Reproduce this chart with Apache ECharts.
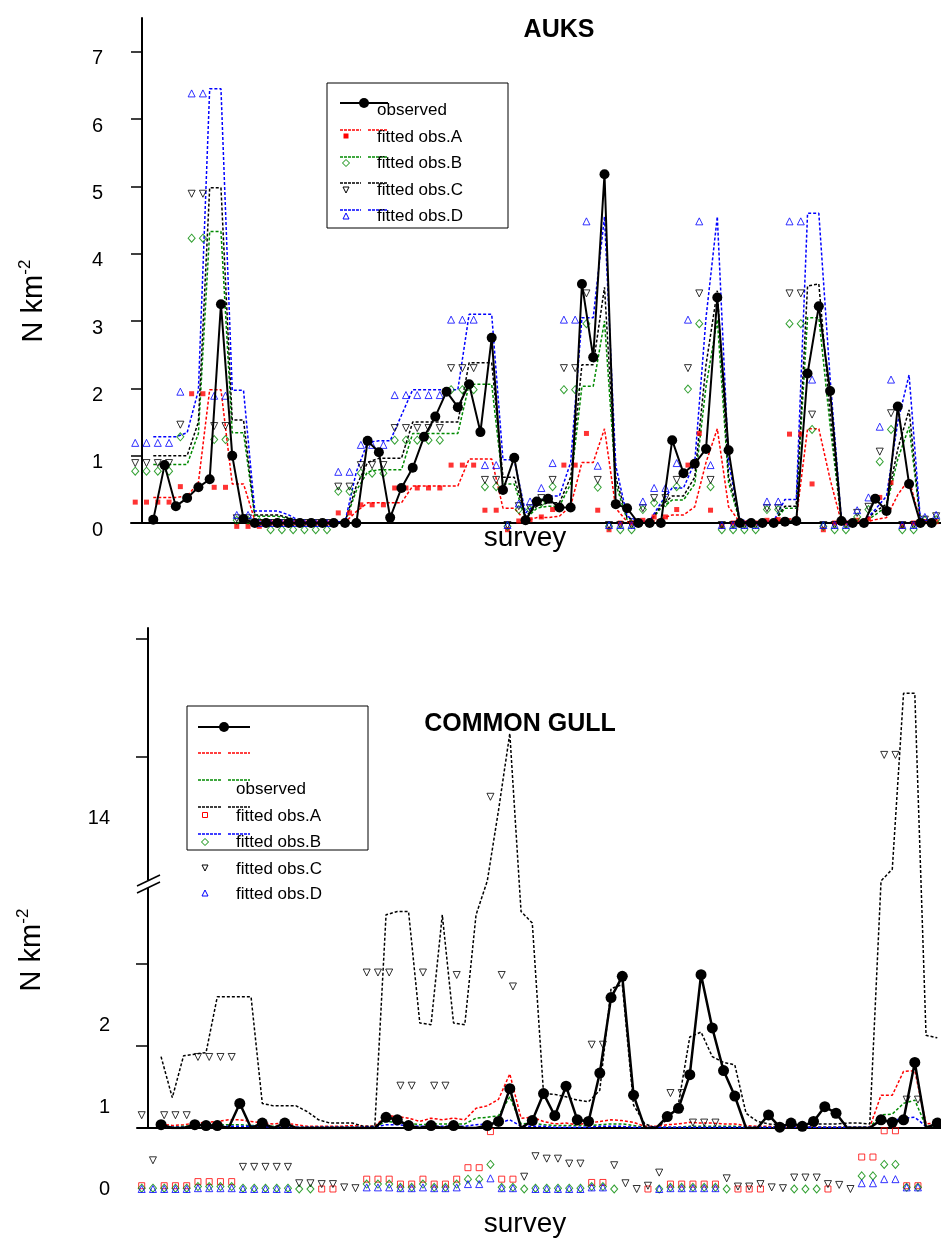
<!DOCTYPE html>
<html><head><meta charset="utf-8">
<script src="https://cdn.jsdelivr.net/npm/echarts@6/dist/echarts.min.js"></script>
<style>html,body{margin:0;padding:0;background:#fff}#c{width:941px;height:1238px}</style>
</head><body><div id="c"></div>
<script>
// ---------------- DATA : AUKS (top panel) ----------------
const topObserved = [0.05,0.86,0.25,0.37,0.53,0.65,3.25,1.0,0.06,0,
 0,0,0,0,0,0,0,0,0,1.22,
 1.05,0.08,0.52,0.82,1.28,1.58,1.95,1.72,2.06,1.35,
 2.75,0.49,0.97,0.04,0.32,0.36,0.23,0.23,3.55,2.46,
 5.18,0.28,0.22,0,0,0,1.23,0.74,0.88,1.1,
 3.35,1.08,0,0,0,0,0.02,0.03,2.22,3.22,
 1.96,0.03,0,0,0.36,0.18,1.73,0.58,0,0];
const topFitA = [0.38,0.38,0.38,0.4,0.6,1.98,1.98,0.58,0.58,0.04,
 0.04,0.04,0.03,0.01,0.01,0.01,0.01,0.01,0.17,0.3,
 0.3,0.3,0.3,0.55,0.55,0.55,0.55,0.55,0.95,0.95,
 0.95,0.22,0.22,0.03,0.08,0.08,0.1,0.25,0.9,0.9,
 1.4,0.22,0.02,0.01,0.01,0.06,0.12,0.12,0.24,0.9,
 1.4,0.24,0.01,0.01,0.01,0.01,0.06,0.06,1.4,1.4,
 0.65,0.01,0.01,0.01,0.05,0.08,0.42,0.65,0.02,0.02];
const topFitB = [0.87,0.87,0.87,0.87,1.33,4.33,4.33,1.34,1.34,0.1,
 0.1,0.1,0.07,0.02,0.01,0.01,0.01,0.01,0.48,0.76,
 0.79,0.79,0.79,1.33,1.33,1.33,1.33,1.33,2.06,2.06,
 2.06,0.58,0.58,0.06,0.22,0.25,0.25,0.58,2.03,2.03,
 3.0,0.58,0.05,0.01,0.01,0.22,0.34,0.34,0.58,2.03,
 3.02,0.6,0.02,0.01,0.01,0.01,0.22,0.22,3.05,3.05,
 1.45,0.02,0.01,0.01,0.12,0.25,0.95,1.43,0.03,0.02];
const topFitC = [1.0,1.0,1.0,1.0,1.5,4.98,4.98,1.53,1.53,0.12,
 0.12,0.12,0.08,0.02,0.02,0.02,0.02,0.02,0.55,0.9,
 0.96,0.96,0.96,1.5,1.5,1.5,1.5,1.5,2.38,2.38,
 2.38,0.68,0.68,0.1,0.25,0.3,0.3,0.68,2.35,2.35,
 3.5,0.68,0.08,0.02,0.02,0.25,0.4,0.4,0.68,2.35,
 3.45,0.7,0.03,0.02,0.02,0.02,0.25,0.25,3.52,3.55,
 1.65,0.03,0.02,0.02,0.17,0.28,1.1,1.68,0.04,0.03];
const topFitD = [1.28,1.28,1.28,1.34,1.97,6.45,6.45,1.97,1.97,0.18,
 0.18,0.18,0.12,0.03,0.02,0.02,0.02,0.02,0.76,1.2,
 1.22,1.22,1.6,1.98,1.98,1.98,1.98,1.98,3.1,3.1,
 3.1,0.94,0.94,0.15,0.3,0.4,0.4,0.9,3.05,3.05,
 4.55,0.85,0.1,0.03,0.03,0.3,0.52,0.52,0.9,3.05,
 4.55,0.9,0.05,0.02,0.02,0.03,0.35,0.35,4.6,4.6,
 2.15,0.05,0.02,0.02,0.2,0.4,1.5,2.2,0.05,0.05];
// fitted obs markers (top)
const topObsA = [0.31,0.31,0.31,0.31,0.54,1.92,1.92,0.53,0.53,-0.05,
 -0.05,-0.05,0,0,0,0,0,0,0.15,0.15,
 0.27,0.27,0.27,0.52,0.52,0.52,0.52,0.52,0.86,0.86,
 0.86,0.19,0.19,-0.1,0.03,0.05,0.09,0.2,0.86,0.86,
 1.33,0.19,-0.1,0,0,0.04,0.09,0.09,0.2,0.86,
 1.33,0.19,-0.05,0,0,0,0.04,0.05,1.32,1.32,
 0.58,-0.1,0,0,0.04,0.06,0.38,0.6,-0.05,0,
 0.02,0.02];
const topObsB = [0.77,0.77,0.77,0.77,1.28,4.23,4.23,1.24,1.24,0.04,
 0.04,0.02,-0.1,-0.1,-0.1,-0.1,-0.1,-0.1,0.47,0.47,
 0.74,0.74,0.74,1.23,1.23,1.23,1.23,1.23,1.98,1.98,
 1.98,0.54,0.54,-0.05,0.2,0.2,0.3,0.54,1.98,1.98,
 2.96,0.53,-0.05,-0.1,-0.1,0.2,0.3,0.3,0.54,1.99,
 2.96,0.54,-0.1,-0.1,-0.1,-0.1,0.2,0.2,2.96,2.96,
 1.39,-0.05,-0.1,-0.1,0.09,0.2,0.91,1.39,-0.1,-0.1,
 0.04,0.05];
const topObsC = [0.89,0.89,0.89,0.89,1.46,4.89,4.89,1.44,1.44,0.07,
 0.07,0,0,0,0,0,0,0,0.54,0.54,
 0.86,0.86,0.86,1.41,1.41,1.41,1.41,1.41,2.3,2.3,
 2.3,0.64,0.64,-0.03,0.25,0.22,0.37,0.64,2.3,2.3,
 3.41,0.64,-0.03,-0.03,-0.03,0.22,0.37,0.37,0.64,2.3,
 3.41,0.64,-0.03,-0.03,-0.03,-0.03,0.22,0.22,3.41,3.41,
 1.61,-0.03,-0.03,-0.03,0.15,0.24,1.06,1.63,-0.03,-0.03,
 0.05,0.1];
const topObsD = [1.19,1.19,1.19,1.19,1.95,6.38,6.38,1.89,1.89,0.12,
 0.12,0,0,0,0,0,0,0,0.76,0.76,
 1.16,1.16,1.16,1.9,1.9,1.9,1.9,1.9,3.02,3.02,
 3.02,0.86,0.86,-0.03,0.29,0.32,0.52,0.89,3.02,3.02,
 4.48,0.85,-0.03,-0.03,-0.03,0.32,0.52,0.52,0.89,3.02,
 4.48,0.86,-0.03,-0.03,-0.03,-0.03,0.32,0.32,4.48,4.48,
 2.13,-0.03,-0.03,-0.03,0.19,0.38,1.43,2.13,-0.03,-0.03,
 0.09,0.12];
const topTickLabels = [0,1,2,3,4,5,6,7];
const topMinorTicks = [0.5,1.5,2.5,3.5,4.5,5.5,6.5,7.5];

// ---------------- DATA : COMMON GULL (bottom panel) ----------------
const botObserved = [0.04,0,0,0.04,0.03,0.03,0,0.3,0,0.06,
 0,0.06,0,0,0,0,0,0,0,0,
 0.13,0.1,0.03,0,0.03,0,0.03,0,0,0.03,
 0.08,0.48,0,0.09,0.42,0.15,0.51,0.1,0.08,0.67,
 1.59,1.85,0.4,0,0,0.14,0.24,0.65,1.87,1.22,
 0.7,0.39,0,0,0.16,0.01,0.06,0.02,0.08,0.26,
 0.18,0,0,0,0.1,0.07,0.1,0.8,0,0.06];
const botFitA = [0.05,0.03,0.04,0.06,0.07,0.08,0.1,0.1,0.08,0.06,
 0.05,0.06,0.04,0.02,0.02,0.02,0.02,0.03,0.02,0.02,
 0.15,0.14,0.12,0.08,0.12,0.1,0.12,0.1,0.24,0.27,
 0.35,0.66,0.12,0.13,0.08,0.05,0.06,0.04,0.06,0.08,
 0.1,0.09,0.07,0.02,0.02,0.04,0.05,0.07,0.06,0.06,
 0.05,0.05,0.03,0.02,0.02,0.01,0.01,0.02,0.01,0.01,
 0.01,0.01,0.01,0.01,0.4,0.4,0.69,0.7,0.05,0.06];
const botFitB = [0.03,0.01,0.02,0.03,0.03,0.04,0.04,0.04,0.03,0.03,
 0.02,0.03,0.01,0.01,0.01,0.01,0.01,0.01,0.01,0.01,
 0.08,0.07,0.06,0.04,0.05,0.05,0.05,0.05,0.12,0.13,
 0.15,0.38,0.05,0.06,0.04,0.03,0.03,0.03,0.03,0.04,
 0.05,0.05,0.03,0.01,0.01,0.01,0.01,0.02,0.02,0.02,
 0.02,0.02,0.01,0.01,0.01,0.01,0.01,0.01,0.01,0.01,
 0.01,0.01,0.01,0.01,0.16,0.17,0.3,0.34,0.02,0.03];
const botFitC = [0.87,0.37,0.88,0.9,0.92,1.6,1.6,1.6,1.6,0.3,
 0.27,0.27,0.27,0.2,0.1,0.06,0.06,0.06,0.02,0.02,
 2.6,2.64,2.64,1.28,1.26,2.6,1.28,1.26,2.6,11.9,
 13.1,14.4,2.64,2.5,0.42,0.41,0.38,0.34,0.32,0.46,
 1.7,1.75,0.28,0.05,0,0.1,0.3,1.11,1.17,0.87,
 0.8,0.77,0.18,0.08,0.05,0.04,0.04,0.04,0.05,0.05,
 0.05,0.06,0.06,0.05,11.9,12.1,15.08,15.08,1.13,1.1];
const botFitD = [0.02,0.01,0.01,0.02,0.02,0.02,0.02,0.02,0.02,0.02,
 0.01,0.02,0.01,0.01,0.01,0.01,0.01,0.01,0.01,0.01,
 0.04,0.04,0.03,0.02,0.02,0.02,0.02,0.02,0.04,0.05,
 0.06,0.1,0.02,0.02,0.02,0.01,0.01,0.01,0.01,0.02,
 0.02,0.02,0.01,0.01,0.01,0.01,0.01,0.01,0.01,0.01,
 0.01,0.01,0.01,0.01,0.01,0.01,0.01,0.01,0.01,0.01,
 0.01,0.01,0.01,0.01,0.08,0.09,0.12,0.13,0.02,0.02];
// fitted obs markers (bottom)
const botObsA = [0.04,null,0.04,0.04,0.04,0.09,0.09,0.09,0.09,null,
 null,null,null,null,null,null,0,0,null,null,
 0.12,0.12,0.12,0.06,0.06,0.12,0.06,0.06,0.12,0.26,
 0.26,0.7,0.12,0.12,null,null,null,null,null,null,
 0.08,0.08,null,null,null,0,null,0.06,0.06,0.06,
 0.06,0.06,null,0,0,0,null,null,null,null,
 null,0,null,null,0.39,0.39,0.71,0.71,0.04,0.04,
 null,null];
const botObsB = [0.01,0.01,0.01,0.01,0.01,0.03,0.03,0.03,0.03,0.01,
 0.01,0.01,0.01,0.01,0,0,null,null,null,null,
 0.06,0.06,0.06,0.02,0.02,0.06,0.02,0.02,0.06,0.12,
 0.12,0.3,0.02,0.02,0,0.01,0.01,0.01,0.01,0.01,
 0.03,0.03,0,null,null,null,0,0.02,0.02,0.02,
 0.02,0.02,0,null,null,null,null,null,0,0,
 0,null,null,null,0.16,0.16,0.3,0.3,0.02,0.02,
 null,null];
const botObsC = [0.9,0.35,0.9,0.9,0.9,1.61,1.61,1.61,1.61,0.27,
 0.27,0.27,0.27,0.27,0.07,0.07,0.06,0.06,0.02,0.01,
 2.64,2.64,2.64,1.26,1.26,2.64,1.26,1.26,2.61,null,
 null,14.36,2.61,2.47,0.15,0.4,0.37,0.37,0.31,0.31,
 1.76,1.76,0.29,0.07,0,0.04,0.2,1.17,1.17,0.81,
 0.81,0.81,0.13,0.03,0.03,0.06,0.02,0.01,0.14,0.14,
 0.14,0.06,0.05,0,null,null,15.07,15.07,1.09,1.09,
 null,null];
const botObsD = [0,0,0,0,0,0.01,0.01,0.01,0.01,0,
 0,0,0,0,null,null,null,null,null,null,
 0.02,0.02,0.02,0.01,0.01,0.02,0.01,0.01,0.02,0.06,
 0.06,0.13,0.01,0.01,null,0,0,0,0,0,
 0.02,0.02,null,null,null,null,0,0.01,0.01,0.01,
 0.01,0.01,null,null,null,null,null,null,null,null,
 null,null,null,null,0.07,0.07,0.12,0.12,0.02,0.02,
 null,null];
const botTickLabels = [0,1,2,14];
const botTickMarks = [1,2,14,16];

const seriesNames = ['observed','fitted obs.A','fitted obs.B','fitted obs.C','fitted obs.D'];

// ---------------- layout / style ----------------
const FONT = '"Liberation Sans", Arial, Helvetica, sans-serif';
const RED = '#ff0000', GREEN = '#008a00', BLACK = '#000000', BLUE = '#0000ff';
// x offsets (axis units) of lines / markers relative to survey index
const TOP_LINE_X0 = 1.0, TOP_MARK_X0 = -0.6;
const BOT_LINE_X0 = 1.16, BOT_MARK_X0 = -0.56;

// broken axis for bottom panel: lower segment 0..3 linear, upper segment scaled
function brk(v) { return v <= 3 ? v : 4.524 + (v - 14) * 0.7195; }

function lineS(data, x0, gi, color, tf) {
  return {type:'line', xAxisIndex:gi, yAxisIndex:gi, silent:true, symbol:'none', z:2,
    animation:false, data: data.map((v,i)=>[i+x0, tf?tf(v):v]),
    lineStyle:{color:color, width:1.5, type:[3,2]}};
}
function scatS(data, x0, gi, opts, tf) {
  const pts = [];
  data.forEach((v,i)=>{ if (v !== null) pts.push([i+x0, tf?tf(v):v]); });
  return Object.assign({type:'scatter', xAxisIndex:gi, yAxisIndex:gi, silent:true, clip:false, z:3,
    animation:false, data:pts}, opts);
}
const hollow = c => ({color:'rgba(0,0,0,0)', borderColor:c, borderWidth:1});

const series = [
  // top
  lineS(topFitA, TOP_LINE_X0, 0, RED), lineS(topFitB, TOP_LINE_X0, 0, GREEN),
  lineS(topFitC, TOP_LINE_X0, 0, BLACK), lineS(topFitD, TOP_LINE_X0, 0, BLUE),
  scatS(topObsA, TOP_MARK_X0, 0, {symbol:'rect', symbolSize:5, itemStyle:{color:RED}}),
  scatS(topObsB, TOP_MARK_X0, 0, {symbol:'diamond', symbolSize:[7,8], itemStyle:hollow(GREEN)}),
  scatS(topObsC, TOP_MARK_X0, 0, {symbol:'triangle', symbolRotate:180, symbolSize:7, itemStyle:hollow(BLACK)}),
  scatS(topObsD, TOP_MARK_X0, 0, {symbol:'triangle', symbolSize:7, itemStyle:hollow(BLUE)}),
  {type:'line', xAxisIndex:0, yAxisIndex:0, silent:true, z:5, animation:false,
   data: topObserved.map((v,i)=>[i+TOP_LINE_X0, v]), symbol:'circle', symbolSize:10,
   itemStyle:{color:BLACK}, lineStyle:{color:BLACK, width:2}},
  // bottom
  lineS(botFitA, BOT_LINE_X0, 1, RED, brk), lineS(botFitB, BOT_LINE_X0, 1, GREEN, brk),
  lineS(botFitC, BOT_LINE_X0, 1, BLACK, brk), lineS(botFitD, BOT_LINE_X0, 1, BLUE, brk),
  scatS(botObsA, BOT_MARK_X0, 2, {symbol:'rect', symbolSize:6, itemStyle:hollow(RED)}, brk),
  scatS(botObsB, BOT_MARK_X0, 2, {symbol:'diamond', symbolSize:[7,8], itemStyle:hollow(GREEN)}, brk),
  scatS(botObsC, BOT_MARK_X0, 2, {symbol:'triangle', symbolRotate:180, symbolSize:7, itemStyle:hollow(BLACK)}, brk),
  scatS(botObsD, BOT_MARK_X0, 2, {symbol:'triangle', symbolSize:7, itemStyle:hollow(BLUE)}, brk),
  {type:'line', xAxisIndex:1, yAxisIndex:1, silent:true, z:5, animation:false,
   data: botObserved.map((v,i)=>({value:[i+BOT_LINE_X0, brk(v)], symbol: v>0?'circle':'none'})),
   symbolSize:11, itemStyle:{color:BLACK}, lineStyle:{color:BLACK, width:2.5}}
];

const axLine = {show:true, onZero:true, lineStyle:{color:'#000', width:2}};
const noSplit = {show:false};
const xBase = (gi, min, max, showLine) => ({type:'value', gridIndex:gi, min:min, max:max,
  axisLine: showLine ? {show:true, onZero:true, lineStyle:{color:'#000', width:2}} : {show:false},
  axisTick:{show:false}, axisLabel:{show:false}, splitLine:noSplit});

const labelStyle = {color:'#000', fontSize:20, fontFamily:FONT};
const botLabelDisp = botTickLabels.map(brk);

const option = {
  animation:false,
  backgroundColor:'#fff',
  grid:[
    {left:131, width:810, top:18, height:505},
    {left:137, width:804, top:628, height:500},
    {left:137, width:804, top:689, height:500},
    {left:131, width:810, top:25, height:505}
  ],
  xAxis:[
    xBase(0, -0.975, 70.83, true),
    xBase(1, -0.978, 70.49, true),
    xBase(2, -0.978, 70.49, false),
    xBase(3, -0.975, 70.83, false)
  ],
  yAxis:[
    {type:'value', gridIndex:0, min:0, max:7.5, axisLine:axLine, splitLine:noSplit,
     axisTick:{show:true, customValues:topTickLabels, length:11, lineStyle:{color:'#000', width:1.5}},
     axisLabel:{show:false}},
    {type:'value', gridIndex:1, min:0, max:500/82, axisLine:axLine, splitLine:noSplit,
     axisTick:{show:true, customValues:botTickMarks.map(brk), length:12, lineStyle:{color:'#000', width:1.5}},
     axisLabel:{show:false}},
    {type:'value', gridIndex:2, min:0, max:500/82, axisLine:{show:false, onZero:true}, splitLine:noSplit,
     axisTick:{show:false},
     axisLabel:Object.assign({customValues:botLabelDisp, margin:27,
       formatter: v => { const k = botLabelDisp.findIndex(d => Math.abs(d - v) < 1e-6); return k >= 0 ? String(botTickLabels[k]) : ''; }}, labelStyle)},
    {type:'value', gridIndex:0, min:0, max:7.5, axisLine:{show:false, onZero:true}, splitLine:noSplit,
     axisTick:{show:true, customValues:topMinorTicks, length:6, lineStyle:{color:'#000', width:1.5}},
     axisLabel:{show:false}},
    {type:'value', gridIndex:3, min:0, max:7.5, axisLine:{show:false, onZero:true}, splitLine:noSplit,
     axisTick:{show:false},
     axisLabel:Object.assign({customValues:topTickLabels, margin:28}, labelStyle)}
  ],
  series: series,
  graphic: buildGraphics()
};

function tri(cx, cy, s, down) {
  return down ? [[cx-s/2,cy-s/2],[cx+s/2,cy-s/2],[cx,cy+s/2]] : [[cx,cy-s/2],[cx+s/2,cy+s/2],[cx-s/2,cy+s/2]];
}
function dia(cx, cy, s) { return [[cx,cy-s/2],[cx+s/2,cy],[cx,cy+s/2],[cx-s/2,cy]]; }

function buildGraphics() {
  const g = [];
  const txt = (x, y, text, size) => g.push({type:'text', x:x, y:y, z:100,
    style:{text:text, fontSize:size, fontFamily:FONT, fill:'#000', align:'left', verticalAlign:'middle'}});
  // titles
  g.push({type:'text', x:559, y:30, z:100, style:{text:'AUKS', fontSize:25, fontWeight:'bold', fontFamily:FONT, fill:'#000', align:'center', verticalAlign:'middle'}});
  g.push({type:'text', x:520, y:724, z:100, style:{text:'COMMON GULL', fontSize:25, fontWeight:'bold', fontFamily:FONT, fill:'#000', align:'center', verticalAlign:'middle'}});
  // x names
  [538, 1224].forEach(y => g.push({type:'text', x:525, y:y, z:100, style:{text:'survey', fontSize:28, fontFamily:FONT, fill:'#000', align:'center', verticalAlign:'middle'}}));
  // y names
  [[34,301],[32,950]].forEach(p => g.push({type:'text', x:p[0], y:p[1], rotation:Math.PI/2, z:100,
    style:{text:'{a|N km}{b|-2}', fontFamily:FONT, align:'center', verticalAlign:'middle',
      rich:{a:{fontSize:29, fontFamily:FONT, fill:'#000', lineHeight:34}, b:{fontSize:17, fontFamily:FONT, fill:'#000', verticalAlign:'top', lineHeight:34}}}}));

  const colors = [BLACK, RED, GREEN, BLACK, BLUE];
  function legend(box, x1, x2, lineYs, textX, textYs, markX, markYs, filledA, fs) {
    g.push({type:'rect', z:90, shape:{x:box[0], y:box[1], width:box[2], height:box[3]}, style:{fill:'#fff', stroke:'#000', lineWidth:1}});
    const mid = (x1 + x2) / 2;
    g.push({type:'line', z:95, shape:{x1:x1, y1:lineYs[0], x2:x2, y2:lineYs[0]}, style:{stroke:'#000', lineWidth:2}});
    g.push({type:'circle', z:96, shape:{cx:mid, cy:lineYs[0], r:5}, style:{fill:'#000'}});
    for (let k = 1; k < 5; k++) {
      const y = lineYs[k];
      g.push({type:'line', z:95, shape:{x1:x1, y1:y, x2:mid-3, y2:y}, style:{stroke:colors[k], lineWidth:1.5, lineDash:[3,1]}});
      g.push({type:'line', z:95, shape:{x1:mid+4, y1:y, x2:x2, y2:y}, style:{stroke:colors[k], lineWidth:1.5, lineDash:[3,1]}});
      const my = markYs[k-1], c = colors[k];
      if (k === 1) {
        g.push({type:'rect', z:96, shape:{x:markX-2.5, y:my-2.5, width:5, height:5},
          style: filledA ? {fill:RED} : {fill:'none', stroke:RED, lineWidth:1}});
      } else if (k === 2) {
        g.push({type:'polygon', z:96, shape:{points:dia(markX, my, 7)}, style:{fill:'none', stroke:c, lineWidth:1}});
      } else if (k === 3) {
        g.push({type:'polygon', z:96, shape:{points:tri(markX, my, 6, true)}, style:{fill:'none', stroke:c, lineWidth:1}});
      } else {
        g.push({type:'polygon', z:96, shape:{points:tri(markX, my, 6, false)}, style:{fill:'none', stroke:c, lineWidth:1}});
      }
    }
    seriesNames.forEach((n, k) => txt(textX, textYs[k], n, fs));
  }
  legend([327,83,181,145], 340, 388, [103,130,157,183,210], 377, [110,137,163,190,216], 346, [136,163,190,216], true, 17);
  legend([187,706,181,144], 198, 250, [727,753,780,807,834], 236, [789,816,842,869,894], 205, [815,842,868,893], false, 17);

  // axis break marks on bottom y axis
  g.push({type:'rect', z:110, shape:{x:144, y:880, width:8, height:8}, style:{fill:'#fff'}});
  g.push({type:'line', z:111, shape:{x1:137, y1:886, x2:160, y2:875}, style:{stroke:'#000', lineWidth:1.5}});
  g.push({type:'line', z:111, shape:{x1:137, y1:893, x2:160, y2:882}, style:{stroke:'#000', lineWidth:1.5}});
  return g;
}

const chart = echarts.init(document.getElementById('c'), null, {renderer:'canvas', width:941, height:1238});
chart.setOption(option);
</script></body></html>
